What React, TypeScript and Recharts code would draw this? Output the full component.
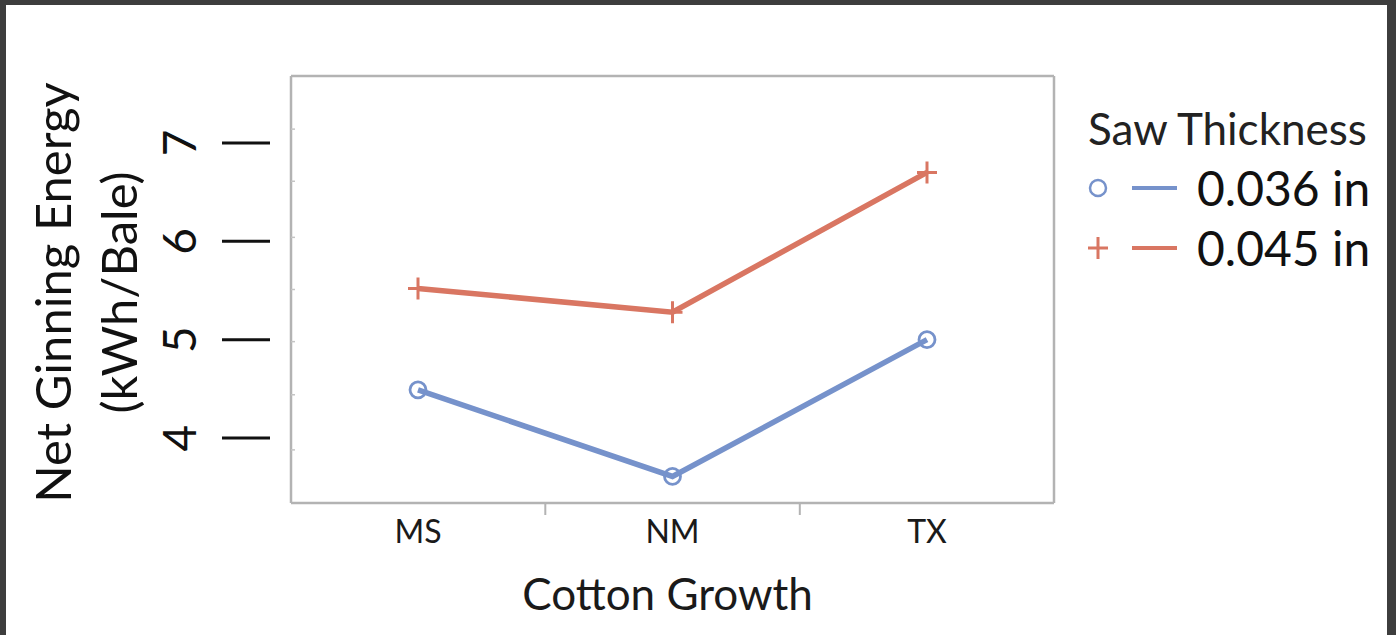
import { LineChart, Line, XAxis, YAxis, Legend, CartesianGrid } from "recharts"

const categories = ["MS", "NM", "TX"]
const saw036 = [4.49, 3.61, 5.0]
const saw045 = [5.52, 5.28, 6.7]
const seriesNames = ["0.036 in", "0.045 in"]
const yTicks = [4, 5, 6, 7]
const yMinorTicks = [3.88, 4.44, 4.98, 5.51, 6.04, 6.61, 7.14]
const yDomain: [number, number] = [3.34, 7.68]

const data = categories.map((name, i) => ({ name, saw036: saw036[i], saw045: saw045[i] }))

const BLUE = "#7692cb"
const RED = "#d97662"
const FRAME = "#b3b3b3"
const font = "Lato, 'Open Sans', sans-serif"
// half the distance between category centres (point scale, padding 127)
const HALF_BAND = 127.3

function CircleDot(props: any) {
  const { cx, cy } = props
  if (cx == null || cy == null) return null
  return <circle key={`c-${cx}-${cy}`} cx={cx} cy={cy} r={8} fill="none" stroke={BLUE} strokeWidth={2.8} />
}

function PlusDot(props: any) {
  const { cx, cy } = props
  if (cx == null || cy == null) return null
  return (
    <path
      key={`p-${cx}-${cy}`}
      d={`M${cx - 10},${cy}H${cx + 10}M${cx},${cy - 11}V${cy + 11}`}
      stroke={RED}
      strokeWidth={3}
      fill="none"
    />
  )
}

function YTick(props: any) {
  const { x, y, payload } = props
  if (yTicks.includes(payload.value)) {
    return (
      <g>
        <line x1={x - 69} x2={x - 21} y1={y} y2={y} stroke="#111" strokeWidth={3} />
        <text
          x={x - 112}
          y={y}
          transform={`rotate(-90, ${x - 112}, ${y})`}
          textAnchor="middle"
          dominantBaseline="central"
          fontSize={46}
          fontFamily={font}
          fill="#111"
        >
          {payload.value}
        </text>
      </g>
    )
  }
  return <line x1={x} x2={x + 4} y1={y} y2={y} stroke="#c4c4c4" strokeWidth={1.5} />
}

function XTick(props: any) {
  const { x, y, payload, index } = props
  return (
    <g>
      {index < categories.length - 1 && (
        <line x1={x + HALF_BAND} x2={x + HALF_BAND} y1={y} y2={y + 12} stroke={FRAME} strokeWidth={2} />
      )}
      <text x={x} y={y + 40} textAnchor="middle" fontSize={32} fontFamily={font} fill="#1a1a1a">
        {payload.value}
      </text>
    </g>
  )
}

function YTitle(props: any) {
  const vb = props.viewBox
  const cy = vb.y + vb.height / 2 + 3
  const lines = [
    { text: "Net Ginning Energy", x: vb.x + 52 },
    { text: "(kWh/Bale)", x: vb.x + 118 },
  ]
  return (
    <g>
      {lines.map((l) => (
        <text
          key={l.text}
          x={l.x}
          y={cy}
          transform={`rotate(-90, ${l.x}, ${cy})`}
          textAnchor="middle"
          dominantBaseline="central"
          fontSize={49}
          fontFamily={font}
          fill="#111"
        >
          {l.text}
        </text>
      ))}
    </g>
  )
}

function XTitle(props: any) {
  const vb = props.viewBox
  return (
    <text
      x={vb.x + vb.width / 2 - 5}
      y={vb.y + 107}
      textAnchor="middle"
      fontSize={44}
      fontFamily={font}
      fill="#1a1a1a"
    >
      Cotton Growth
    </text>
  )
}

function LegendBox(props: any) {
  const payload = props.payload || []
  return (
    <div style={{ fontFamily: font, color: "#111" }}>
      <div style={{ fontSize: 44, lineHeight: "60px", paddingLeft: 3, color: "#222", whiteSpace: "nowrap" }}>Saw Thickness</div>
      {payload.map((p: any, i: number) => (
        <div key={p.value} style={{ display: "flex", alignItems: "center", height: 60 }}>
          <svg width={112} height={60}>
            {i === 0 ? (
              <circle cx={13} cy={30} r={8} fill="none" stroke={p.color} strokeWidth={2.5} />
            ) : (
              <path d="M3,30H23M13,19V41" stroke={p.color} strokeWidth={3} fill="none" />
            )}
            <line x1={47} x2={92} y1={30} y2={30} stroke={p.color} strokeWidth={4} />
          </svg>
          <span style={{ fontSize: 48, lineHeight: "60px", whiteSpace: "nowrap" }}>{p.value}</span>
        </div>
      ))}
    </div>
  )
}

export default function App() {
  return (
    <div style={{ position: "absolute", left: 0, top: 0, width: 1396, height: 635, background: "#3d3d3d", overflow: "hidden" }}>
      <div style={{ position: "absolute", left: 6, top: 5, width: 1381, height: 630, background: "#fff" }} />
      <div style={{ position: "absolute", left: 0, top: 0 }}>
        <LineChart width={1396} height={635} data={data} margin={{ top: 76, right: 342, bottom: 0, left: 0 }}>
          <CartesianGrid
            stroke={FRAME}
            strokeWidth={2.5}
            horizontalCoordinatesGenerator={({ offset }: any) => [offset.top, offset.top + offset.height]}
            verticalCoordinatesGenerator={({ offset }: any) => [offset.left, offset.left + offset.width]}
          />
          <XAxis
            dataKey="name"
            height={132}
            padding={{ left: 127, right: 127 }}
            axisLine={false}
            tickLine={false}
            tickSize={0}
            tickMargin={0}
            tick={<XTick />}
            interval={0}
            label={{ content: <XTitle /> }}
          />
          <YAxis
            type="number"
            domain={yDomain}
            ticks={[...yMinorTicks, ...yTicks]}
            interval={0}
            width={291}
            axisLine={false}
            tickLine={false}
            tickSize={0}
            tickMargin={0}
            tick={<YTick />}
            allowDataOverflow
            label={{ content: <YTitle /> }}
          />
          <Line
            dataKey="saw036"
            name={seriesNames[0]}
            stroke={BLUE}
            strokeWidth={5.5}
            dot={<CircleDot />}
            activeDot={false}
            isAnimationActive={false}
          />
          <Line
            dataKey="saw045"
            name={seriesNames[1]}
            stroke={RED}
            strokeWidth={5.5}
            dot={<PlusDot />}
            activeDot={false}
            isAnimationActive={false}
          />
          <Legend
            layout="vertical"
            align="center"
            verticalAlign="middle"
            wrapperStyle={{ left: 1085, top: 98, width: 300 }}
            content={<LegendBox />}
          />
        </LineChart>
      </div>
    </div>
  )
}
